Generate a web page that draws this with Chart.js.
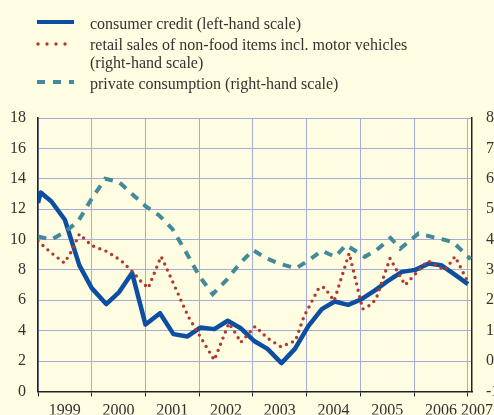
<!DOCTYPE html>
<html>
<head>
<meta charset="utf-8">
<script src="https://cdn.jsdelivr.net/npm/chart.js@4.4.1/dist/chart.umd.min.js"></script>
<style>
  html, body { margin: 0; padding: 0; background: #fefce1; }
  #wrap { position: relative; width: 494px; height: 415px; overflow: hidden; }
  #legend { position: absolute; left: 0; top: 0; width: 494px; font-family: 'Liberation Serif', serif; font-size: 16px; color: #333; }
  .row { position: absolute; left: 90px; white-space: nowrap; line-height: 18px; }
  .key { position: absolute; left: 36px; }
</style>
</head>
<body>
<div id="wrap">
  <canvas id="creditChart" width="494" height="415"></canvas>
  <div id="legend">
    <svg class="key" style="top:17px" width="40" height="10"><line x1="1" y1="5" x2="38" y2="5" stroke="#0b4ea2" stroke-width="4"/></svg>
    <div class="row" style="top:15px">consumer credit (left-hand scale)</div>
    <svg class="key" style="top:39px" width="40" height="10"><line x1="2" y1="5" x2="38" y2="5" stroke="#b03a2e" stroke-width="3.4" stroke-linecap="round" stroke-dasharray="0 9"/></svg>
    <div class="row" style="top:36px">retail sales of non-food items incl. motor vehicles</div>
    <div class="row" style="top:54px">(right-hand scale)</div>
    <svg class="key" style="top:77px" width="40" height="10"><line x1="1" y1="5" x2="38" y2="5" stroke="#428a9a" stroke-width="4" stroke-dasharray="8 8"/></svg>
    <div class="row" style="top:75px">private consumption (right-hand scale)</div>
  </div>
</div>
<script>
// consumer credit, left-hand scale (% yoy)
const creditYears = [1999.0, 1999.05, 1999.25, 1999.5, 1999.77, 2000.0, 2000.27, 2000.5, 2000.75,
    2001.0, 2001.27, 2001.52, 2001.78, 2002.02, 2002.28, 2002.53, 2002.78, 2003.03, 2003.27,
    2003.53, 2003.78, 2004.03, 2004.28, 2004.52, 2004.77, 2005.02, 2005.27, 2005.52, 2005.77,
    2006.02, 2006.27, 2006.5, 2006.75, 2007.0];
const creditValues = [12.4, 13.1, 12.5, 11.3, 8.3, 6.8, 5.75, 6.5, 7.8,
    4.4, 5.15, 3.77, 3.62, 4.2, 4.1, 4.65, 4.14, 3.3, 2.8,
    1.86, 2.8, 4.3, 5.42, 5.92, 5.7, 6.07, 6.65, 7.3, 7.87,
    8.0, 8.42, 8.31, 7.7, 7.06];

// retail sales of non-food items incl. motor vehicles, right-hand scale
const retailYears = [1999.0, 1999.24, 1999.49, 1999.63, 1999.77, 2000.0, 2000.29, 2000.55, 2000.78,
    2000.9, 2001.05, 2001.29, 2001.35, 2001.8, 2002.28, 2002.55, 2002.7, 2002.77, 2003.04,
    2003.27, 2003.52, 2003.79, 2003.95, 2004.23, 2004.33, 2004.51, 2004.79, 2005.04, 2005.19,
    2005.29, 2005.55, 2005.83, 2006.25, 2006.57, 2006.76, 2007.02];
const retailValues = [3.95, 3.57, 3.23, 3.63, 4.18, 3.8, 3.6, 3.3, 2.9,
    2.65, 2.4, 3.44, 3.22, 1.45, 0.03, 1.24, 0.85, 0.61, 1.14,
    0.75, 0.47, 0.67, 1.47, 2.42, 2.42, 1.98, 3.55, 1.71, 1.85,
    2.04, 3.38, 2.5, 3.3, 2.99, 3.44, 2.53];

// private consumption, right-hand scale
const consumptionYears = [1999.0, 1999.25, 1999.5, 1999.75, 2000.0, 2000.25, 2000.5, 2000.75,
    2001.0, 2001.25, 2001.5, 2001.75, 2002.0, 2002.25, 2002.5, 2002.75, 2003.0, 2003.25,
    2003.5, 2003.8, 2004.05, 2004.28, 2004.53, 2004.73, 2005.08, 2005.3, 2005.56, 2005.74,
    2006.08, 2006.35, 2006.72, 2007.05];
const consumptionValues = [4.1, 4.0, 4.25, 4.6, 5.35, 6.0, 5.9, 5.5,
    5.1, 4.8, 4.35, 3.6, 2.8, 2.2, 2.65, 3.2, 3.65, 3.38,
    3.2, 3.05, 3.33, 3.63, 3.43, 3.82, 3.43, 3.65, 4.05, 3.7,
    4.2, 4.08, 3.92, 3.35];

const yearLabels = ['1999', '2000', '2001', '2002', '2003', '2004', '2005', '2006', '2007'];

const gridColor = '#a4acdc';
const axisColor = '#222222';

function toPoints(xs, ys) {
    return xs.map((x, i) => ({ x: x, y: ys[i] }));
}

Chart.defaults.font.family = "'Liberation Serif', serif";
Chart.defaults.font.size = 16;
Chart.defaults.color = '#333333';

const firstYear = Number(yearLabels[0]);
const lastYear = Number(yearLabels[yearLabels.length - 1]);

new Chart(document.getElementById('creditChart'), {
    type: 'line',
    data: {
        datasets: [{
            label: 'private consumption (right-hand scale)',
            data: toPoints(consumptionYears, consumptionValues),
            yAxisID: 'yRight',
            borderColor: '#428a9a',
            borderWidth: 4,
            borderDash: [8.5, 7.5],
            pointRadius: 0,
            tension: 0
        }, {
            label: 'retail sales of non-food items incl. motor vehicles (right-hand scale)',
            data: toPoints(retailYears, retailValues),
            yAxisID: 'yRight',
            borderColor: '#b03a2e',
            borderWidth: 3.4,
            borderDash: [0, 6.6],
            borderCapStyle: 'round',
            pointRadius: 0,
            tension: 0
        }, {
            label: 'consumer credit (left-hand scale)',
            data: toPoints(creditYears, creditValues),
            yAxisID: 'yLeft',
            borderColor: '#0b4ea2',
            borderWidth: 4.5,
            borderJoinStyle: 'round',
            pointRadius: 0,
            tension: 0
        }]
    },
    options: {
        responsive: false,
        animation: false,
        layout: { padding: { top: 118, left: 0, right: 0, bottom: 0 } },
        plugins: {
            legend: { display: false },
            tooltip: { enabled: false }
        },
        scales: {
            x: {
                type: 'linear',
                min: firstYear,
                max: lastYear + 0.075,
                afterBuildTicks: function(scale) {
                    const ticks = [];
                    yearLabels.forEach(function(label, i) {
                        const year = Number(label);
                        ticks.push({ value: year });
                        if (i < yearLabels.length - 1) {
                            ticks.push({ value: year + 0.5 });
                        } else {
                            ticks.push({ value: year + 0.17 });
                        }
                    });
                    scale.ticks = ticks;
                },
                afterFit: function(scale) {
                    scale.height = 23;
                    scale.paddingLeft = 0;
                    scale.paddingRight = 0;
                },
                grid: {
                    color: ctx => (ctx.tick && Number.isInteger(ctx.tick.value)) ? gridColor : 'rgba(0,0,0,0)',
                    tickColor: ctx => (ctx.tick && Number.isInteger(ctx.tick.value)) ? axisColor : 'rgba(0,0,0,0)',
                    tickLength: 5,
                    lineWidth: 1
                },
                border: { color: axisColor, width: 1.5 },
                ticks: {
                    autoSkip: false,
                    maxRotation: 0,
                    padding: 5,
                    callback: function(value) {
                        return Number.isInteger(value) ? '' : String(Math.floor(value));
                    }
                }
            },
            yLeft: {
                position: 'left',
                min: 0,
                max: 18,
                afterFit: function(scale) { scale.width = 38; },
                ticks: { stepSize: 2, padding: 12 },
                grid: { color: gridColor, drawTicks: false, lineWidth: 1 },
                border: { color: axisColor, width: 1.5 }
            },
            yRight: {
                position: 'right',
                min: -1,
                max: 8,
                afterFit: function(scale) { scale.width = 22; },
                ticks: { stepSize: 1, padding: 14 },
                grid: { drawOnChartArea: false, drawTicks: false },
                border: { color: axisColor, width: 1.5 }
            }
        }
    }
});
</script>
</body>
</html>
